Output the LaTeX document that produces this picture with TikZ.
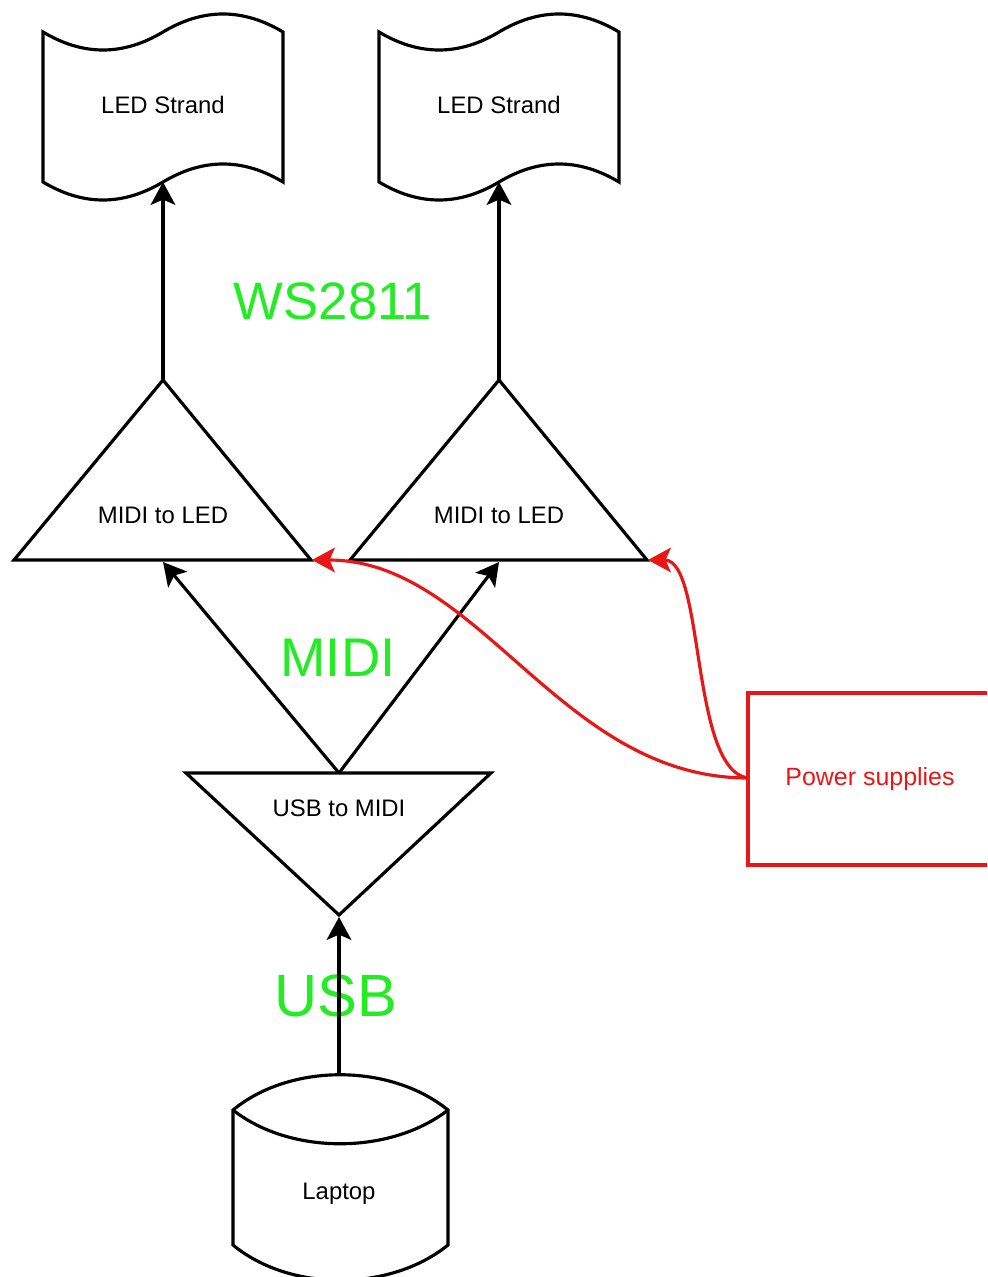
\documentclass[tikz,border=0pt]{standalone}
\usepackage{fontspec}
\setmainfont{Liberation Sans}
\usetikzlibrary{arrows.meta}
\definecolor{busgreen}{RGB}{36,236,36}
\definecolor{powerred}{RGB}{232,22,22}

\tikzset{
	outline/.style={line width=1.8pt, line join=miter},
	flow/.style={line width=1.8pt, -{Stealth[length=13pt,width=14pt,inset=3pt]}},
	power/.style={flow, powerred},
	caption/.style={font=\fontsize{13.6}{16}\selectfont, text depth=0pt, inner sep=0pt},
	buslabel/.style={busgreen, text depth=0pt, inner sep=0pt}
}

\begin{document}
\begin{tikzpicture}[x=0.02cm, y=-0.02cm]
				\useasboundingbox (0,0) rectangle (987,1277);
				\clip (0,0) rectangle (987,1277);
				% bus labels
				\node[buslabel, font=\fontsize{30}{36}\selectfont] (ws) at (333, 301) {WS2811};
				\node[buslabel, font=\fontsize{31}{36}\selectfont] (midi) at (338, 658) {MIDI};
				\node[buslabel, font=\fontsize{34}{40}\selectfont] (usb) at (336, 996) {USB};
				
				% strands and MIDI to LED boards
				\foreach \x/\n in {163/a, 499/b}{
					\draw[outline] (\x-120, 32) .. controls (\x-80, 56) and (\x-40, 56) .. (\x, 32)
						.. controls (\x+40, 8) and (\x+80, 8) .. (\x+120, 32) -- (\x+120, 182)
						.. controls (\x+80, 158) and (\x+40, 158) .. (\x, 182)
						.. controls (\x-40, 206) and (\x-80, 206) .. (\x-120, 182) -- cycle;
					\node[caption] (strand-\n) at (\x, 105) {LED Strand};
					\coordinate (strand-\n-in) at (\x, 182);
					
					\draw[outline] (\x-149, 560) -- (\x, 380) -- (\x+148, 560) -- cycle;
					\node[caption] (led-\n) at (\x, 515) {MIDI to LED};
					\coordinate (led-\n-out) at (\x, 380);
					\coordinate (led-\n-in) at (\x, 562);
					\coordinate (led-\n-pwr) at (\x+149, 560);
					\draw[flow] (led-\n-out) -- (strand-\n-in);
				}
				
				% USB to MIDI
				\draw[outline] (186, 773) -- (491, 773) -- (339, 915) -- cycle;
				\node[caption] (conv) at (339, 808) {USB to MIDI};
				\coordinate (conv-out) at (339, 773);
				\coordinate (conv-in) at (339, 917);
				\foreach \n in {a, b}
					\draw[flow] (conv-out) -- (led-\n-in);
				
				% laptop
				\draw[outline] (233, 1110) .. controls (290, 1063) and (390, 1063) .. (448, 1110)
					-- (448, 1245) .. controls (390, 1292) and (290, 1292) .. (233, 1245) -- cycle;
				\draw[outline] (233, 1110) .. controls (290, 1155) and (390, 1155) .. (448, 1110);
				\node[caption] (laptop) at (339, 1191) {Laptop};
				\coordinate (laptop-out) at (339, 1075);
				\draw[flow] (laptop-out) -- (conv-in);
				
				% power supplies
				\draw[outline, powerred] (748, 693) rectangle (1000, 865);
				\node[caption, powerred, font=\fontsize{14.2}{16}\selectfont] (psu) at (870, 776) {Power supplies};
				\coordinate (psu-out) at (748, 778);
				\draw[power] (psu-out) .. controls (560, 778) and (480, 560) .. (led-a-pwr);
				\draw[power] (psu-out) .. controls (690, 770) and (705, 560) .. (led-b-pwr);
					
			\end{tikzpicture}
\end{document}
